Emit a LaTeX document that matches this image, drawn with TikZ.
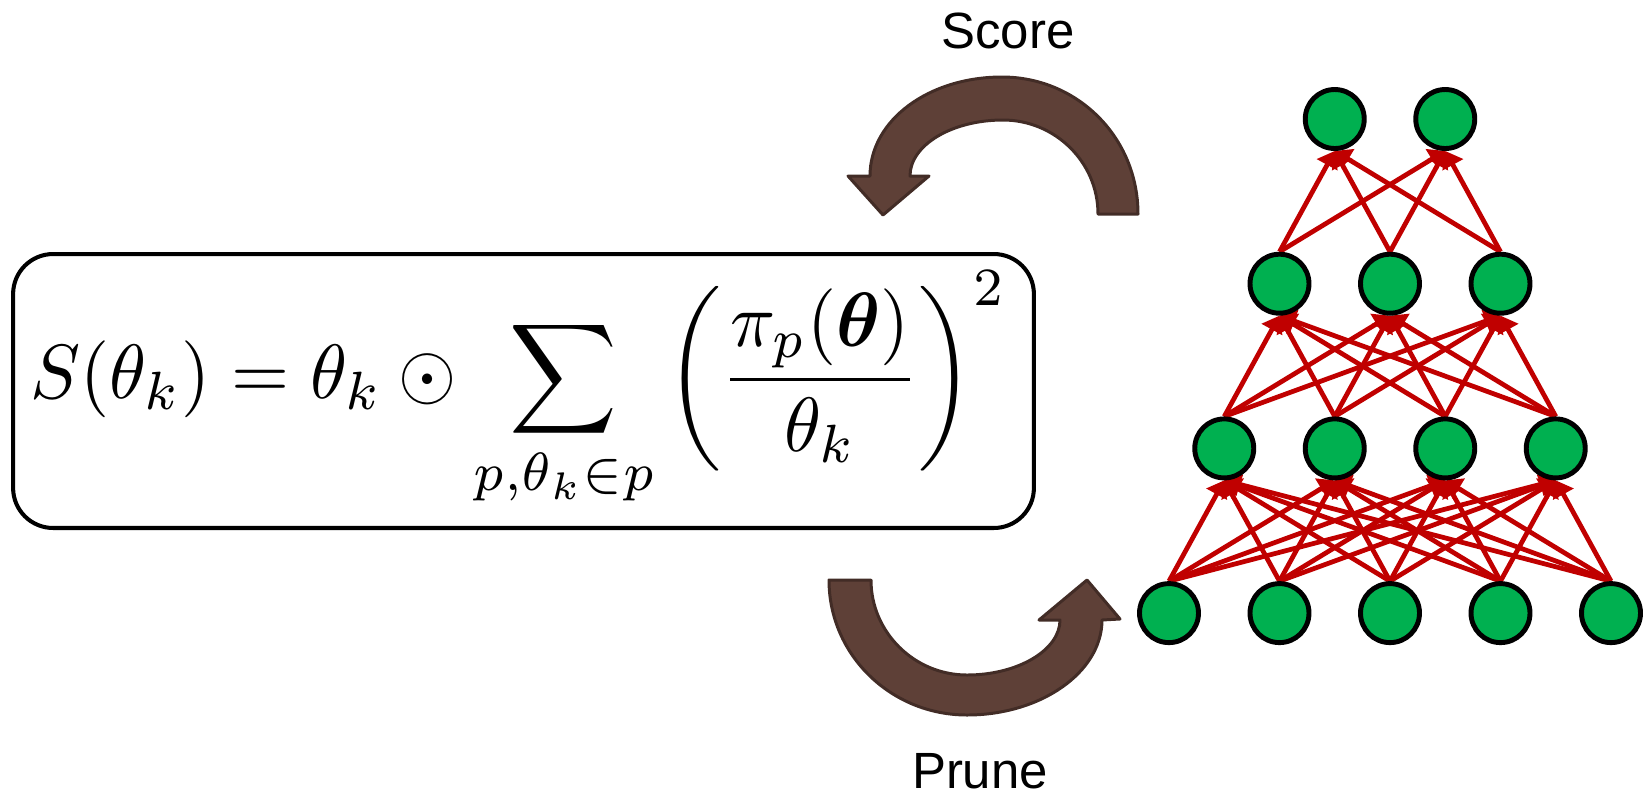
\documentclass[tikz,border=0pt]{standalone}
\usepackage[no-math]{fontspec}
\usepackage{amsmath}
\usepackage{amssymb}
\usepackage{xcolor}
\usepackage{tikz}
\usetikzlibrary{arrows.meta, positioning, backgrounds}
\newfontfamily\labelfont{Liberation Sans}
\definecolor{mygreen}{RGB}{0,176,80}
\definecolor{myred}{RGB}{192,0,0}
\definecolor{mybrown}{RGB}{94,64,55}
\definecolor{mydarkbrown}{RGB}{66,44,38}
\tikzstyle{formulabox} = [rectangle, rounded corners=0.8cm, minimum width=20.42cm, minimum height=5.48cm, draw=black, line width=2.3pt]
\tikzstyle{neuron} = [circle, minimum size=1.18cm, inner sep=0pt, draw=black, line width=2.8pt, fill=mygreen]
\tikzstyle{synapse} = [draw=myred, line width=2.7pt, -{Triangle[length=9pt, width=13pt]}]
\tikzstyle{cyclearrow} = [fill=mybrown, draw=mydarkbrown, line width=1.7pt, line join=round]
\tikzstyle{labeltext} = [font=\labelfont\fontsize{29}{34}\selectfont, inner sep=0pt]

\begin{document}
\begin{tikzpicture}[x=0.02cm, y=-0.02cm]
    \useasboundingbox (0,0) rectangle (1644,796);
    % score formula
    \node (box) [formulabox] at (523.5,391) {};
    \node (formula) at (519,390) {\scalebox{4.25}[4.38]{$\displaystyle S(\theta_k) = \theta_k \odot \sum_{p,\theta_k \in p} \left(\frac{\pi_p(\boldsymbol{\theta})}{\theta_k}\right)^2$}};
    % network
    \foreach \n [count=\l] in {2,3,4,5}
        \foreach \i in {1,...,\n}
            \node (n\l-\i) [neuron] at ({1390+(\i-(\n+1)/2)*110.5}, {119+(\l-1)*164.7}) {};
    \begin{scope}[on background layer]
        \foreach \u/\d/\nu/\nd in {1/2/2/3, 2/3/3/4, 3/4/4/5}
            \foreach \i in {1,...,\nd}
                \foreach \j in {1,...,\nu}
                    \draw [synapse] (n\d-\i.north) -- (n\u-\j.south);
    \end{scope}
    % score / prune arrows
    \draw [cyclearrow] (1138,214) .. controls (1138,137) and (1077,77) .. (1002,77)
        .. controls (929,77) and (870,120) .. (870,176)
        -- (848,176) -- (883,215) -- (929,176) -- (910,176)
        .. controls (910,145) and (952,120) .. (1003,120)
        .. controls (1055,120) and (1098,162) .. (1098,214) -- cycle;
    \draw [cyclearrow] (829,580) .. controls (829,655) and (891,715) .. (967,715)
        .. controls (1041,715) and (1102,672) .. (1102,620)
        -- (1120,619) -- (1087,580) -- (1039,620) -- (1060,620)
        .. controls (1060,650) and (1018,675) .. (967,675)
        .. controls (914,675) and (871,632) .. (871,580) -- cycle;
    \node (score) [labeltext, anchor=base] at (1008,48) {Score};
    \node (prune) [labeltext, anchor=base] at (980,788) {Prune};
\end{tikzpicture}
\end{document}
